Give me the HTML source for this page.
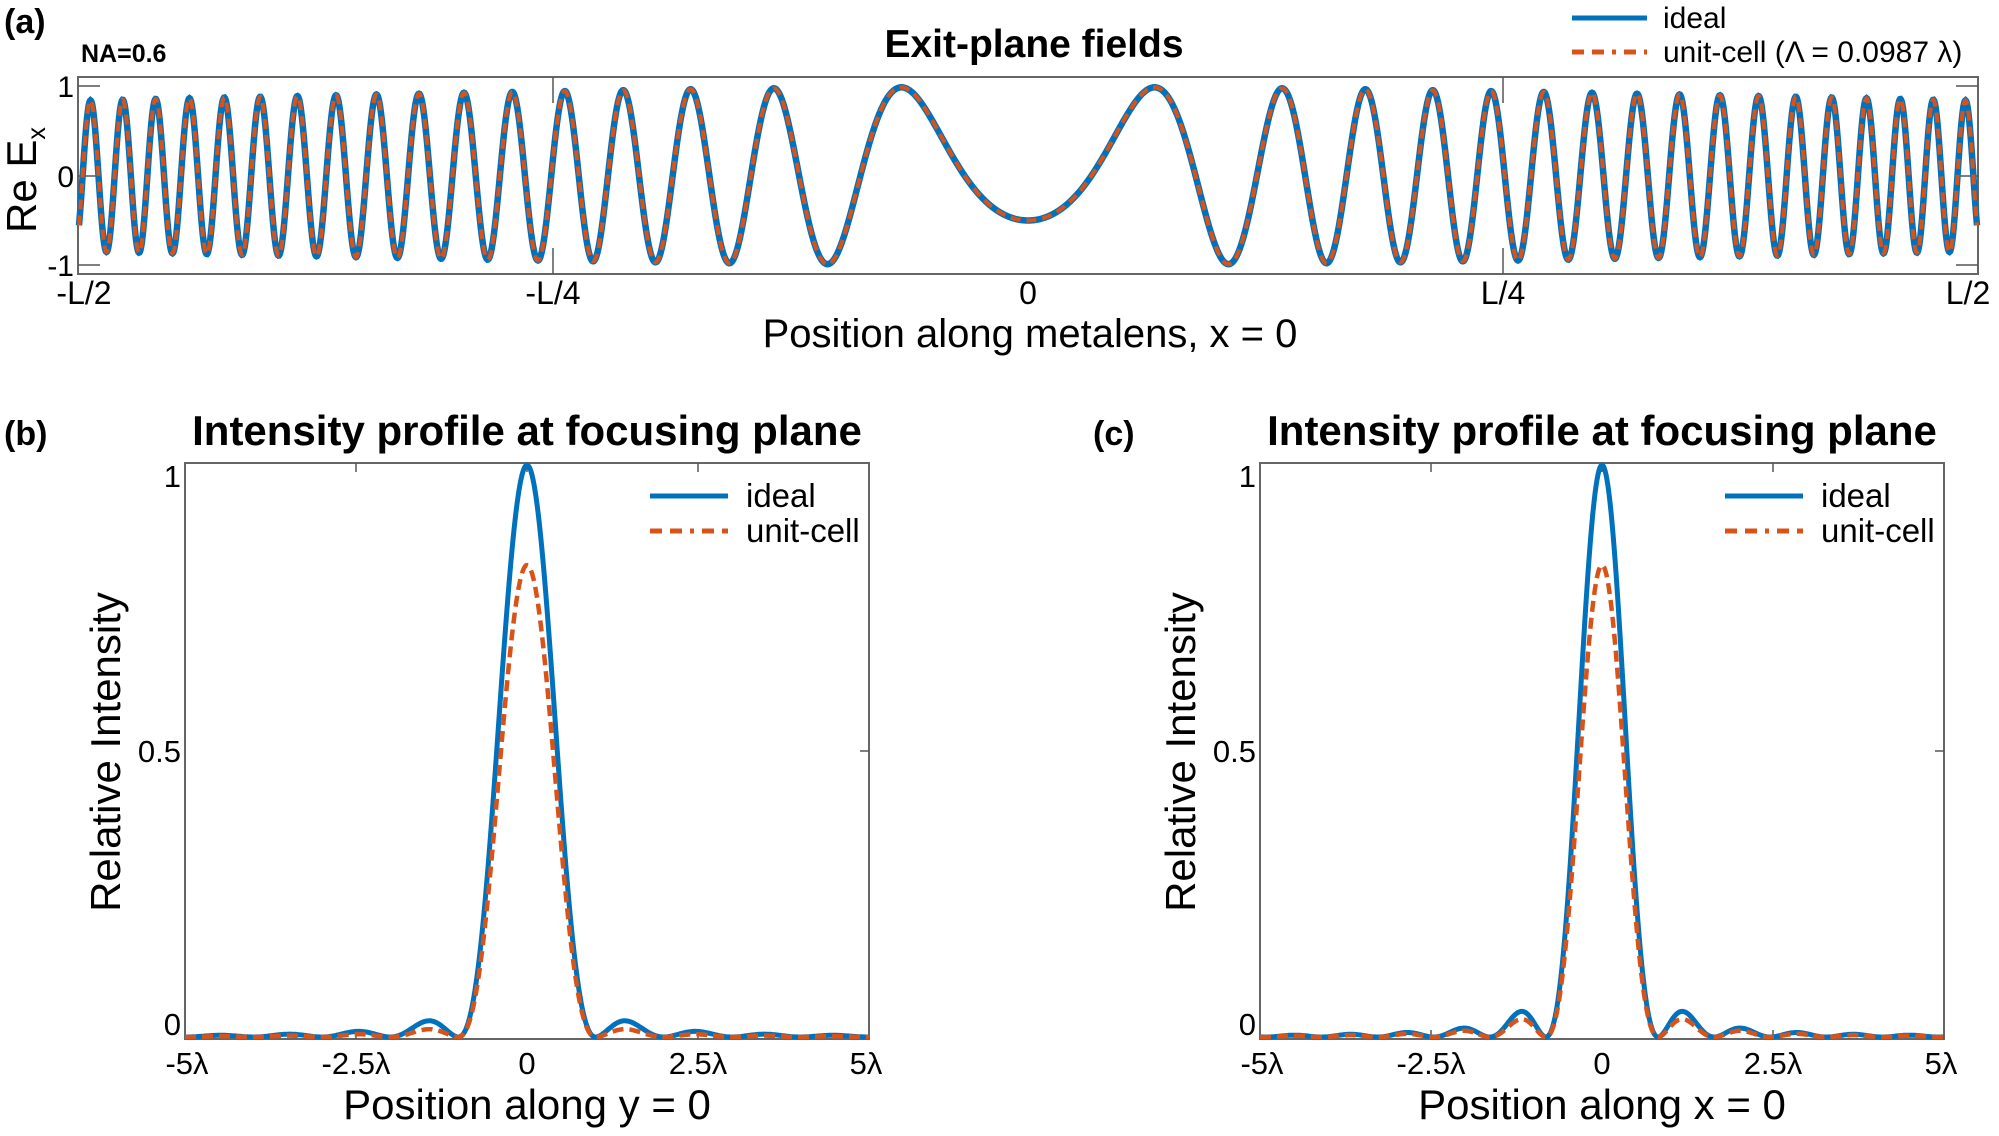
<!DOCTYPE html>
<html><head><meta charset="utf-8"><style>
html,body{margin:0;padding:0;background:#fff}
svg{display:block}
text{font-family:"Liberation Sans",Arial,sans-serif;fill:#000}
.b{font-weight:bold}
</style></head><body>
<svg id="s" width="1999" height="1136" viewBox="0 0 1999 1136" xmlns="http://www.w3.org/2000/svg">
<!-- Panel a -->
<text x="4" y="33" font-size="34" class="b">(a)</text>
<text x="81" y="62" font-size="25" class="b">NA=0.6</text>
<text x="1034" y="57" font-size="39" class="b" text-anchor="middle">Exit-plane fields</text>
<line x1="1572" y1="18" x2="1647" y2="18" stroke="#0072BD" stroke-width="5"/>
<text x="1663" y="28" font-size="30">ideal</text>
<line x1="1572" y1="52" x2="1647" y2="52" stroke="#D95319" stroke-width="5" stroke-dasharray="12,8,12,8,4,8"/>
<text x="1663" y="62" font-size="30">unit-cell (Λ = 0.0987 λ)</text>
<rect x="78" y="77" width="1900" height="197" fill="none" stroke="#666" stroke-width="2"/>
<g stroke="#555" stroke-width="1.5">
<line x1="553" y1="77" x2="553" y2="103"/><line x1="553" y1="274" x2="553" y2="248"/>
<line x1="1503" y1="77" x2="1503" y2="103"/><line x1="1503" y1="274" x2="1503" y2="248"/>
<line x1="78" y1="86" x2="100" y2="86"/><line x1="78" y1="176" x2="100" y2="176"/><line x1="78" y1="265" x2="100" y2="265"/>
<line x1="1978" y1="86" x2="1956" y2="86"/><line x1="1978" y1="176" x2="1956" y2="176"/><line x1="1978" y1="265" x2="1956" y2="265"/>
</g>
<g font-size="30" text-anchor="end">
<text x="74" y="97">1</text><text x="74" y="187">0</text><text x="74" y="276">-1</text>
</g>
<g font-size="32" text-anchor="middle">
<text x="84" y="304">-L/2</text><text x="553" y="304">-L/4</text><text x="1028" y="304">0</text><text x="1503" y="304">L/4</text><text x="1968" y="304">L/2</text>
</g>
<text x="1030" y="347" font-size="40" text-anchor="middle">Position along metalens, x = 0</text>
<text transform="translate(36,180) rotate(-90)" font-size="42" text-anchor="middle">Re E<tspan font-size="25" dy="9">x</tspan></text>
<path id="a1" fill="none" stroke="#0072BD" stroke-width="6.5"/>
<path id="a2" fill="none" stroke="#D95319" stroke-width="4" stroke-dasharray="10,6"/>

<!-- Panel b -->
<text x="4" y="445" font-size="34" class="b">(b)</text>
<text x="527" y="445" font-size="42" class="b" text-anchor="middle">Intensity profile at focusing plane</text>
<rect x="185" y="463" width="684" height="576" fill="none" stroke="#666" stroke-width="2"/>
<g stroke="#555" stroke-width="1.5">
<line x1="356" y1="463" x2="356" y2="472"/><line x1="698" y1="463" x2="698" y2="472"/><line x1="527" y1="463" x2="527" y2="472"/>
<line x1="356" y1="1039" x2="356" y2="1030"/><line x1="698" y1="1039" x2="698" y2="1030"/>
<line x1="869" y1="751" x2="860" y2="751"/>
</g>
<g font-size="31" text-anchor="end">
<text x="181" y="487">1</text><text x="181" y="762">0.5</text><text x="181" y="1035">0</text>
</g>
<g font-size="31" text-anchor="middle">
<text x="187" y="1074">-5λ</text><text x="356" y="1074">-2.5λ</text><text x="527" y="1074">0</text><text x="698" y="1074">2.5λ</text><text x="866" y="1074">5λ</text>
</g>
<text x="527" y="1119" font-size="42" text-anchor="middle">Position along y = 0</text>
<text transform="translate(120,752) rotate(-90)" font-size="42" text-anchor="middle">Relative Intensity</text>
<line x1="650" y1="496" x2="728" y2="496" stroke="#0072BD" stroke-width="5"/>
<text x="746" y="507" font-size="33">ideal</text>
<line x1="650" y1="531" x2="728" y2="531" stroke="#D95319" stroke-width="5" stroke-dasharray="12,8,12,8,4,8"/>
<text x="746" y="542" font-size="33">unit-cell</text>
<path id="b1" fill="none" stroke="#0072BD" stroke-width="5"/>
<path id="b2" fill="none" stroke="#D95319" stroke-width="4.5" stroke-dasharray="11,6"/>

<!-- Panel c -->
<text x="1093" y="445" font-size="34" class="b">(c)</text>
<text x="1602" y="445" font-size="42" class="b" text-anchor="middle">Intensity profile at focusing plane</text>
<rect x="1260" y="463" width="684" height="576" fill="none" stroke="#666" stroke-width="2"/>
<g stroke="#555" stroke-width="1.5">
<line x1="1431" y1="463" x2="1431" y2="472"/><line x1="1773" y1="463" x2="1773" y2="472"/><line x1="1602" y1="463" x2="1602" y2="472"/>
<line x1="1431" y1="1039" x2="1431" y2="1030"/><line x1="1773" y1="1039" x2="1773" y2="1030"/>
<line x1="1944" y1="751" x2="1935" y2="751"/>
</g>
<g font-size="31" text-anchor="end">
<text x="1256" y="487">1</text><text x="1256" y="762">0.5</text><text x="1256" y="1035">0</text>
</g>
<g font-size="31" text-anchor="middle">
<text x="1262" y="1074">-5λ</text><text x="1431" y="1074">-2.5λ</text><text x="1602" y="1074">0</text><text x="1773" y="1074">2.5λ</text><text x="1941" y="1074">5λ</text>
</g>
<text x="1602" y="1119" font-size="42" text-anchor="middle">Position along x = 0</text>
<text transform="translate(1195,752) rotate(-90)" font-size="42" text-anchor="middle">Relative Intensity</text>
<line x1="1725" y1="496" x2="1803" y2="496" stroke="#0072BD" stroke-width="5"/>
<text x="1821" y="507" font-size="33">ideal</text>
<line x1="1725" y1="531" x2="1803" y2="531" stroke="#D95319" stroke-width="5" stroke-dasharray="12,8,12,8,4,8"/>
<text x="1821" y="542" font-size="33">unit-cell</text>
<path id="c1" fill="none" stroke="#0072BD" stroke-width="5"/>
<path id="c2" fill="none" stroke="#D95319" stroke-width="4.5" stroke-dasharray="11,6"/>
</svg>
<script>
(function(){
function P(id,pts){var s='';for(var i=0;i<pts.length;i++){s+=(i?'L':'M')+pts[i][0].toFixed(1)+' '+pts[i][1].toFixed(1);}document.getElementById(id).setAttribute('d',s);}
var f=1267,c=0.332,pa=[];
for(var X=79;X<=1977;X+=0.5){var d=X-1028;var r=Math.sqrt(d*d+f*f);var D=r-f;var A=Math.pow(f/r,0.75);var E=A*Math.cos(c*D-2*Math.PI/3);pa.push([X,176-89*E]);}
P('a1',pa);P('a2',pa);
function sinc2(u){if(Math.abs(u)<1e-9)return 1;var v=Math.PI*u;var s=Math.sin(v)/v;return s*s;}
function prof(cx,a,side,amp){var p=[];for(var X=cx-342;X<=cx+342;X+=1){var u=(X-cx)/68.4;var I=sinc2(u/a);if(Math.abs(u)>a)I*=side;I*=amp;p.push([X,1037-572*I]);}return p;}
P('b1',prof(527,1.0,0.6,1));P('b2',prof(527,1.0,0.35,0.825));
P('c1',prof(1602,0.82,0.95,1));P('c2',prof(1602,0.82,0.8,0.825));
})();
</script>
</body></html>
